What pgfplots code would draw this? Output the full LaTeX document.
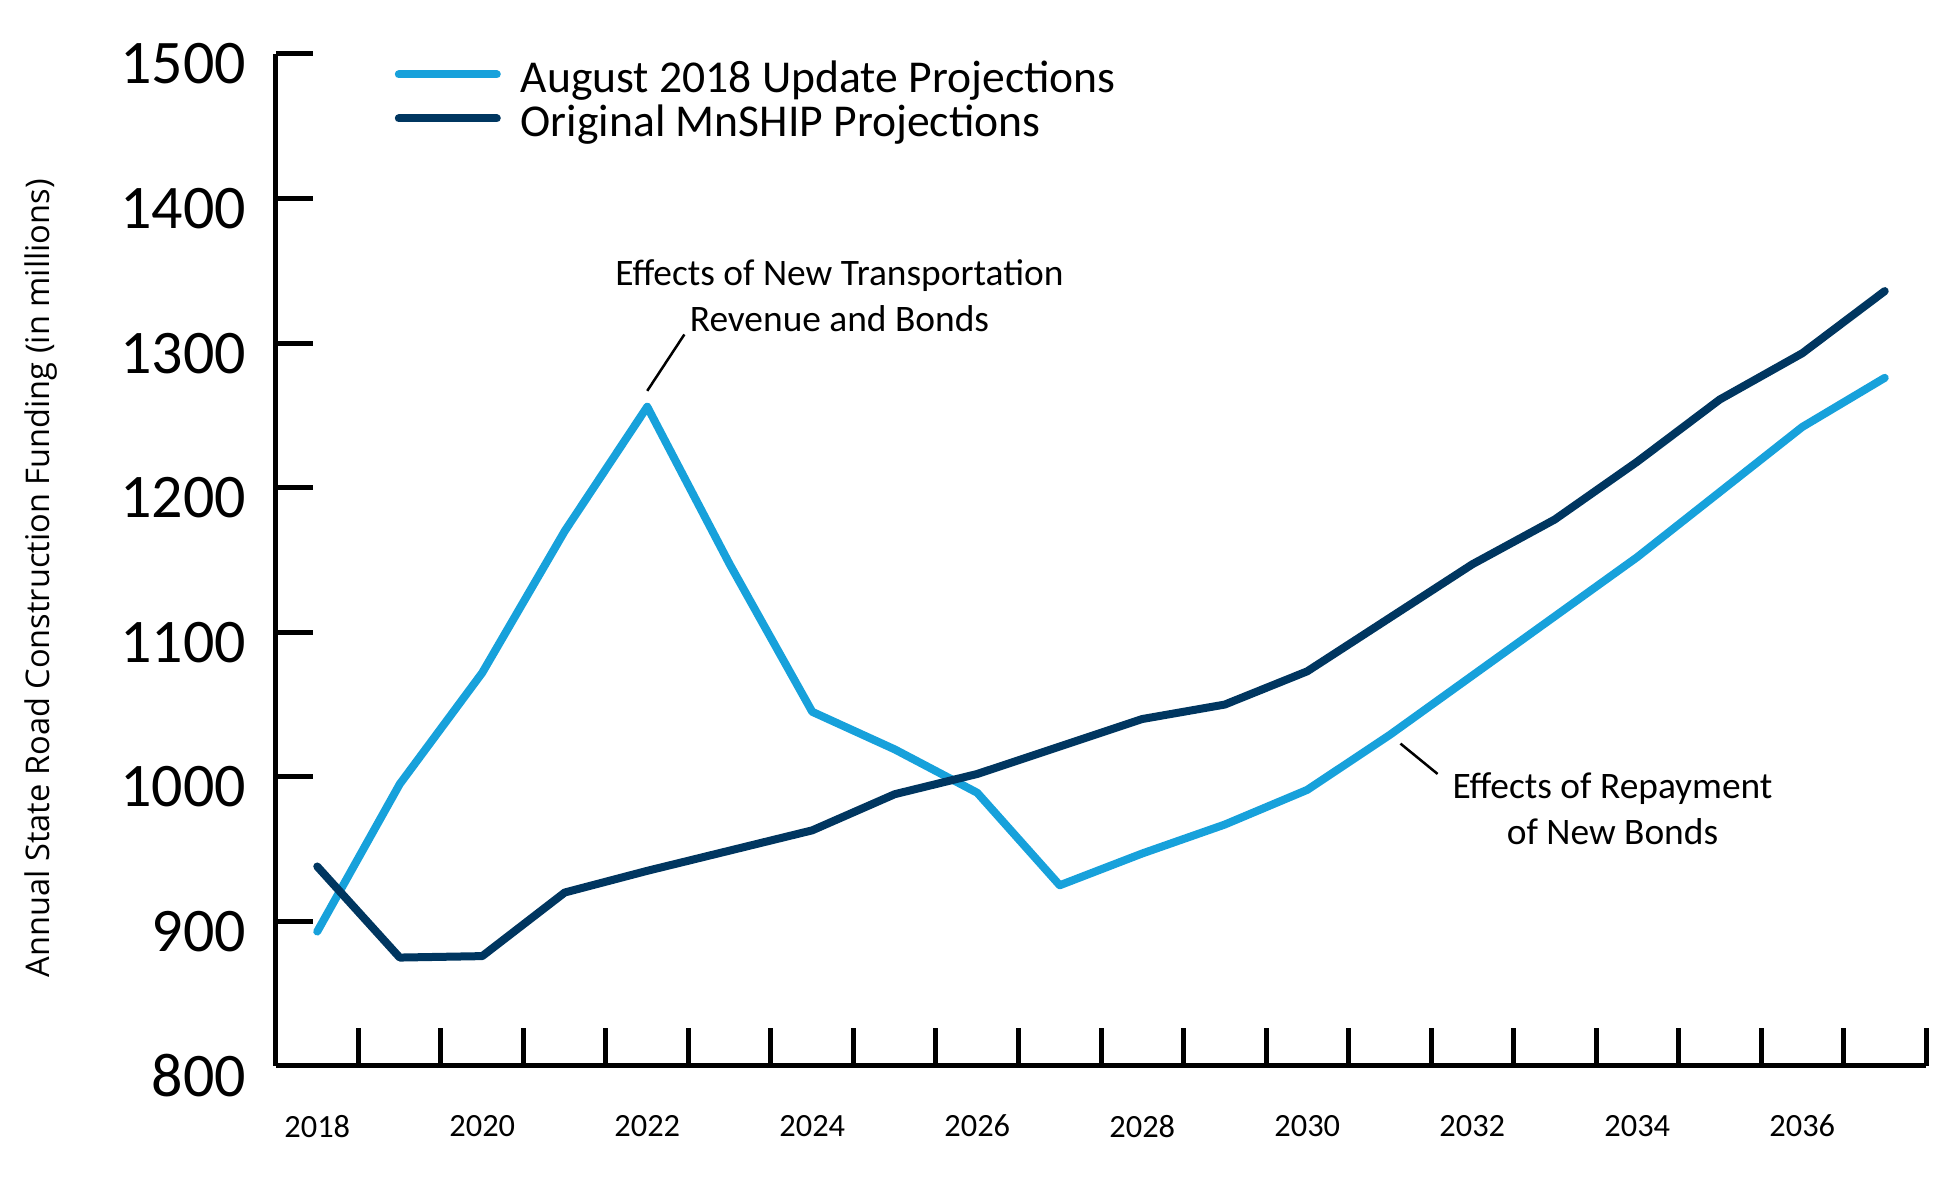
\documentclass[border=0pt]{standalone}
\usepackage{fontspec}
\setmainfont{Carlito}
\newfontfamily\labelfont{Open Sans}
\usepackage{pgfplots}
\pgfplotsset{compat=1.18}
\definecolor{lightblue}{HTML}{17A1DB}
\definecolor{navy}{HTML}{003660}

\pgfplotstableread{
year aug orig
2018 893 938
2019 995 875
2020 1072 876
2021 1170 920
2022 1256 935
2023 1147 949
2024 1045 963
2025 1019 988
2026 989 1002
2027 925 1021
2028 947 1040
2029 967 1050
2030 991 1073
2031 1029 1110
2032 1070 1147
2033 1111 1178
2034 1152 1218
2035 1197 1261
2036 1242 1293
2037 1276 1336
}\datatable

\begin{document}
\begin{tikzpicture}
\begin{axis}[
  name=ax,
  scale only axis,
  width=825pt, height=506pt,
  xmin=2017.5, xmax=2037.5, ymin=800, ymax=1500,
  clip=false,
  axis x line*=bottom, axis y line*=left,
  axis line style={line width=2.5pt, black},
  tick style={line width=2.5pt, black},
  major tick length=18.75pt,
  tick align=inside,
  xtick={2018.5,2019.5,2020.5,2021.5,2022.5,2023.5,2024.5,2025.5,2026.5,2027.5,2028.5,2029.5,2030.5,2031.5,2032.5,2033.5,2034.5,2035.5,2036.5,2037.5},
  xticklabels={},
  extra x ticks={2018,2020,2022,2024,2026,2028,2030,2032,2034,2036},
  extra x tick labels={2018,2020,2022,2024,2026,2028,2030,2032,2034,2036},
  extra x tick style={major tick length=0pt},
  ytick={800,900,...,1500},
  /pgf/number format/1000 sep={},
  /pgf/number format/assume math mode=true,
  x tick label style={font=\fontsize{16.2}{16}\selectfont, yshift=-21pt},
  y tick label style={font=\fontsize{31}{31}\selectfont, xshift=-11.5pt, yshift=-5pt},
  ylabel={Annual State Road Construction Funding (in millions)},
  ylabel style={font=\labelfont\fontsize{16.3}{16.3}\selectfont, at={(axis description cs:-0.1422,0.482)}, anchor=center},
  legend style={draw=none, fill=none, inner sep=0pt, outer sep=0pt,
    at={(axis description cs:0.072,1.0)}, anchor=north west, yshift=-3.5pt,
    font=\fontsize{22.8}{22}\selectfont, nodes={inner sep=0pt, text height=16pt, text depth=4.5pt},
    row sep=1.5pt, /tikz/every odd column/.append style={column sep=10pt}},
  legend cell align=left,
  legend image code/.code={\draw[#1, line cap=round] (0pt,3.5pt) -- (49pt,3.5pt);},
]
\addplot[lightblue, line width=4pt, line join=round, line cap=round] table[x=year, y=aug] {\datatable};
\addlegendentry{August 2018 Update Projections}
\addplot[navy, line width=4pt, line join=round, line cap=round] table[x=year, y=orig] {\datatable};
\addlegendentry{Original MnSHIP Projections}

\node[align=center, font=\fontsize{18.7}{23}\selectfont] at (axis cs:2024.33,1333) {Effects of New Transportation\\Revenue and Bonds};
\draw[line width=1.25pt] (axis cs:2022.0,1267) -- (axis cs:2022.45,1306);
\node[align=center, font=\fontsize{18.7}{23}\selectfont] at (axis cs:2033.7,978) {Effects of Repayment\\of New Bonds};
\draw[line width=1.25pt] (axis cs:2031.13,1023) -- (axis cs:2031.58,1002);
\end{axis}
\pgfresetboundingbox
\path ([shift={(-138pt,-67pt)}]ax.south west) rectangle ([shift={(12.5pt,27pt)}]ax.north east);
\end{tikzpicture}
\end{document}
